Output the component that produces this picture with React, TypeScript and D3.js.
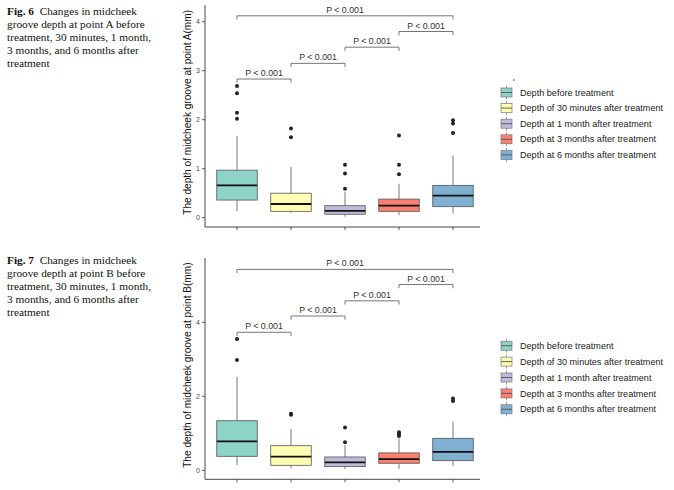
import React from 'react';
import * as d3 from 'd3';

// groups shared by both figures
const groups = [
  'Depth before treatment',
  'Depth of 30 minutes after treatment',
  'Depth at 1 month after treatment',
  'Depth at 3 months after treatment',
  'Depth at 6 months after treatment',
];
const fills = ['#8dd3c7', '#ffffb3', '#bebada', '#fb8072', '#80b1d3'];

// Fig 6 - point A
const aLow = [0.13, 0.1, 0.02, 0.05, 0.08];
const aQ1 = [0.36, 0.13, 0.07, 0.13, 0.225];
const aMed = [0.66, 0.28, 0.14, 0.245, 0.45];
const aQ3 = [0.97, 0.5, 0.245, 0.38, 0.66];
const aHigh = [1.67, 1.04, 0.53, 0.69, 1.27];
const aOut = [[2.69, 2.54, 2.14, 2.02], [1.82, 1.64], [1.08, 0.9, 0.59], [1.68, 1.08, 0.885], [1.99, 1.92, 1.73]];
const aBrackets: [number, number, number][] = [[0, 1, 2.83], [1, 2, 3.15], [2, 3, 3.48], [3, 4, 3.8], [0, 4, 4.12]];
const aTicks = [0, 1, 2, 3, 4];

// Fig 7 - point B
const bLow = [0.14, 0.05, 0.03, 0.04, 0.12];
const bQ1 = [0.378, 0.135, 0.1, 0.19, 0.26];
const bMed = [0.78, 0.37, 0.215, 0.3, 0.5];
const bQ3 = [1.34, 0.665, 0.36, 0.47, 0.865];
const bHigh = [2.53, 1.12, 0.68, 0.86, 1.32];
const bOut = [[3.55, 2.98], [1.53, 1.5], [1.16, 0.76], [1.03, 0.98, 0.93], [1.94, 1.87]];
const bBrackets: [number, number, number][] = [[0, 1, 3.73], [1, 2, 4.17], [2, 3, 4.58], [3, 4, 5.02], [0, 4, 5.43]];
const bTicks = [0, 2, 4];

const captionA = ['groove depth at point A before', 'treatment, 30 minutes, 1 month,', '3 months, and 6 months after', 'treatment'];
const captionB = ['groove depth at point B before', 'treatment, 30 minutes, 1 month,', '3 months, and 6 months after', 'treatment'];

const sans = 'Liberation Sans, Arial, sans-serif';
const serif = 'Liberation Serif, Times New Roman, serif';

interface PanelProps {
  yZero: number;
  pxPerUnit: number;
  axisTop: number;
  axisBottom: number;
  low: number[];
  q1: number[];
  med: number[];
  q3: number[];
  high: number[];
  out: number[][];
  brackets: [number, number, number][];
  ticks: number[];
  label: string;
  legendTop: number;
  legendStep: number;
  stray?: boolean;
}

const Panel: React.FC<PanelProps> = (p) => {
  const x = d3.scalePoint<number>().domain(d3.range(groups.length)).range([237, 453]);
  const y = d3.scaleLinear().domain([0, 1]).range([p.yZero, p.yZero - p.pxPerUnit]);
  const bw = 40.5;
  const axisX = 205;

  return (
    <g>
      {/* axes */}
      <line x1={axisX} x2={axisX} y1={p.axisTop} y2={p.axisBottom} stroke="#333" strokeWidth={0.9} />
      <line x1={axisX} x2={480} y1={p.axisBottom} y2={p.axisBottom} stroke="#333" strokeWidth={0.9} />
      {p.ticks.map((t) => (
        <g key={t}>
          <line x1={axisX - 3} x2={axisX} y1={y(t)} y2={y(t)} stroke="#333" strokeWidth={0.8} />
          <text x={axisX - 5} y={y(t)} dy="0.35em" textAnchor="end" fontSize={7} fill="#4d4d4d" fontFamily={sans}>{t}</text>
        </g>
      ))}
      {groups.map((g, i) => (
        <line key={g} x1={x(i)} x2={x(i)} y1={p.axisBottom} y2={p.axisBottom + 3} stroke="#333" strokeWidth={0.8} />
      ))}
      <text transform={`translate(191,${(p.axisTop + p.yZero) / 2 + 1}) rotate(-90)`} textAnchor="middle" fontSize={10.1} fill="#111" fontFamily={sans}>{p.label}</text>

      {/* boxes */}
      {groups.map((g, i) => {
        const cx = x(i) as number;
        return (
          <g key={g}>
            <line x1={cx} x2={cx} y1={y(p.high[i])} y2={y(p.q3[i])} stroke="#555" strokeWidth={0.8} />
            <line x1={cx} x2={cx} y1={y(p.q1[i])} y2={y(p.low[i])} stroke="#555" strokeWidth={0.8} />
            <rect x={cx - bw / 2} y={y(p.q3[i])} width={bw} height={y(p.q1[i]) - y(p.q3[i])} fill={fills[i]} stroke="#555" strokeWidth={0.8} />
            <line x1={cx - bw / 2} x2={cx + bw / 2} y1={y(p.med[i])} y2={y(p.med[i])} stroke="#111" strokeWidth={1.8} />
            {p.out[i].map((v, k) => (
              <circle key={k} cx={cx} cy={y(v)} r={2} fill="#222" />
            ))}
          </g>
        );
      })}

      {/* significance brackets */}
      {p.brackets.map(([a, b, v], k) => {
        const x1 = x(a) as number;
        const x2 = x(b) as number;
        const yy = y(v);
        return (
          <g key={k}>
            <path d={`M${x1},${yy + 3.7}V${yy}H${x2}V${yy + 3.7}`} fill="none" stroke="#666" strokeWidth={0.9} />
            <text x={(x1 + x2) / 2} y={yy - 3} textAnchor="middle" fontSize={8.8} fill="#333" fontFamily={sans}>P &lt; 0.001</text>
          </g>
        );
      })}

      {/* legend */}
      {p.stray && <line x1={513} x2={514.5} y1={80} y2={80} stroke="#333" strokeWidth={1} />}
      {groups.map((g, i) => {
        const cy = p.legendTop + i * p.legendStep;
        return (
          <g key={g}>
            <line x1={506.5} x2={506.5} y1={cy - 7} y2={cy + 7} stroke="#777" strokeWidth={0.7} />
            <rect x={501} y={cy - 4.5} width={11} height={9} fill={fills[i]} stroke="#777" strokeWidth={0.7} />
            <line x1={501} x2={512} y1={cy} y2={cy} stroke="#555" strokeWidth={0.9} />
            <text x={520} y={cy} dy="0.35em" fontSize={9.1} fill="#222" fontFamily={sans}>{g}</text>
          </g>
        );
      })}
    </g>
  );
};

const Caption: React.FC<{ top: number; num: string; lines: string[] }> = ({ top, num, lines }) => (
  <g fontFamily={serif} fontSize={11.3} fill="#111">
    <text x={7} y={top}>
      <tspan fontWeight="bold">Fig. {num}</tspan>
      <tspan>{'\u00a0\u00a0Changes in midcheek'}</tspan>
    </text>
    {lines.map((l, i) => (
      <text key={i} x={7} y={top + (i + 1) * 13.1}>{l}</text>
    ))}
  </g>
);

const App: React.FC = () => (
  <svg width={674} height={490} style={{ position: 'absolute', left: 0, top: 0, background: '#fff' }}>
    <Caption top={14.5} num="6" lines={captionA} />
    <Caption top={264} num="7" lines={captionB} />
    <Panel
      yZero={217.7} pxPerUnit={49} axisTop={5} axisBottom={227}
      low={aLow} q1={aQ1} med={aMed} q3={aQ3} high={aHigh} out={aOut}
      brackets={aBrackets} ticks={aTicks}
      label="The depth of midcheek groove at point A(mm)"
      legendTop={92.5} legendStep={15.6} stray
    />
    <Panel
      yZero={470.3} pxPerUnit={37} axisTop={258} axisBottom={479.3}
      low={bLow} q1={bQ1} med={bMed} q3={bQ3} high={bHigh} out={bOut}
      brackets={bBrackets} ticks={bTicks}
      label="The depth of midcheek groove at point B(mm)"
      legendTop={345.7} legendStep={15.9}
    />
  </svg>
);

export default App;
